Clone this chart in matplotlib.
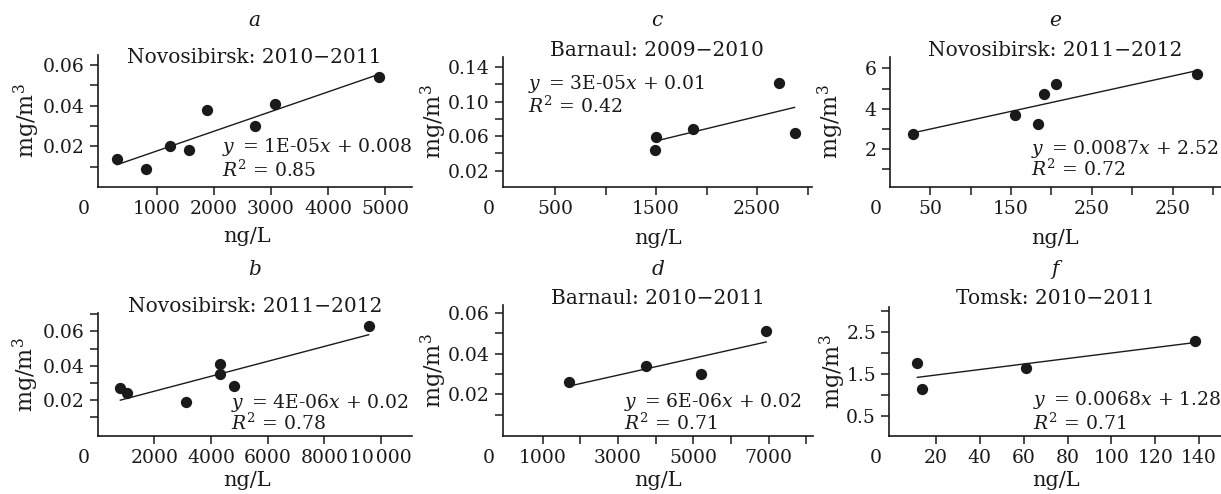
import matplotlib
matplotlib.use("Agg")
import matplotlib.pyplot as plt
import numpy as np

plt.rcParams['font.family'] = ['DejaVu Serif']
plt.rcParams['mathtext.fontset'] = 'dejavuserif'

INK = '#1a1a1a'

# ---------------- data ----------------
a_x = [300, 800, 1230, 1560, 1880, 2720, 3070, 4890]
a_y = [0.014, 0.009, 0.020, 0.018, 0.038, 0.030, 0.041, 0.054]

b_x = [800, 1040, 3120, 4300, 4330, 4820, 9560]
b_y = [0.027, 0.024, 0.019, 0.041, 0.035, 0.028, 0.063]

c_x = [1490, 1500, 1870, 2720, 2870]
c_y = [0.044, 0.059, 0.068, 0.121, 0.064]

d_x = [1710, 3740, 5210, 6930]
d_y = [0.026, 0.034, 0.030, 0.051]

e_x = [28, 155, 183, 191, 206, 380]
e_y = [2.75, 3.71, 3.22, 4.75, 5.21, 5.70]

f_x = [11.5, 13.5, 61, 138]
f_y = [1.76, 1.14, 1.63, 2.29]

letters = ['a', 'b', 'c', 'd', 'e', 'f']
titles = ['Novosibirsk: 2010\u22122011', 'Novosibirsk: 2011\u22122012',
          'Barnaul: 2009\u22122010', 'Barnaul: 2010\u22122011',
          'Novosibirsk: 2011\u22122012', 'Tomsk: 2010\u22122011']
equations = [r'$y\,$ = 1E-05$x$ + 0.008', r'$y\,$ = 4E-06$x$ + 0.02',
             r'$y\,$ = 3E-05$x$ + 0.01', r'$y\,$ = 6E-06$x$ + 0.02',
             r'$y\,$ = 0.0087$x$ + 2.52', r'$y\,$ = 0.0068$x$ + 1.28']
r2_values = ['0.85', '0.78', '0.42', '0.71', '0.72', '0.71']

a_xticks = [1000, 2000, 3000, 4000, 5000]
a_xlabels = ['1000', '2000', '3000', '4000', '5000']
b_xticks = [2000, 4000, 6000, 8000, 10000]
b_xlabels = ['2000', '4000', '6000', '8000', '10\u200a000']
c_xticks = [500, 1000, 1500, 2000, 2500, 3000]
c_xlabels = ['500', '', '1500', '', '2500', '']
d_xticks = [1000, 2000, 3000, 4000, 5000, 6000, 7000, 8000]
d_xlabels = ['1000', '', '3000', '', '5000', '', '7000', '']
e_xticks = [50, 100, 150, 200, 250, 300, 350, 400]
e_xlabels = ['50', '', '150', '', '250', '', '250', '']
f_xticks = [20, 40, 60, 80, 100, 120, 140]
f_xlabels = ['20', '40', '60', '80', '100', '120', '140']

a_yticks = [0.02, 0.04, 0.06]
a_ylabels = ['0.02', '0.04', '0.06']
a_yminor = [0.01, 0.03, 0.05]
b_yticks = [0.02, 0.04, 0.06]
b_ylabels = ['0.02', '0.04', '0.06']
b_yminor = [0.01, 0.03, 0.05, 0.07]
c_yticks = [0.02, 0.06, 0.10, 0.14]
c_ylabels = ['0.02', '0.06', '0.10', '0.14']
c_yminor = [0.04, 0.08, 0.12]
d_yticks = [0.02, 0.04, 0.06]
d_ylabels = ['0.02', '0.04', '0.06']
d_yminor = [0.01, 0.03, 0.05]
e_yticks = [2, 4, 6]
e_ylabels = ['2', '4', '6']
e_yminor = [1, 3, 5]
f_yticks = [0.5, 1.5, 2.5]
f_ylabels = ['0.5', '1.5', '2.5']
f_yminor = [1.0, 2.0, 3.0]

# ---------------- layout ----------------
W, H = 1221, 494
fig = plt.figure(figsize=(W / 100, H / 100), dpi=100)

FS_TICK = 13.5
FS_TITLE = 14.5
FS_YLABEL = 16
FS_XLABEL = 15
FS_EQ = 13.5

panels = [
    dict(x=a_x, y=a_y, box=(97.7, 411.7, 55, 187), xlim=(-40, 5470), ylim=(0, 0.065),
         xt=a_xticks, xl=a_xlabels, yt=a_yticks, yl=a_ylabels, ym=a_yminor,
         eq=(0.395, 0.267, 0.078), let_y=26, tit_y=63, ylab_x=26.7, xlab=(246.7, 237)),
    dict(x=b_x, y=b_y, box=(97.7, 411.7, 313.3, 435.7), xlim=(0, 11080), ylim=(-0.0007, 0.0705),
         xt=b_xticks, xl=b_xlabels, yt=b_yticks, yl=b_ylabels, ym=b_yminor,
         eq=(0.4245, 0.224, 0.047), let_y=275, tit_y=312, ylab_x=25.7, xlab=(246.7, 480.5)),
    dict(x=c_x, y=c_y, box=(502.7, 811.7, 56.7, 186.7), xlim=(-18, 3040), ylim=(0.0015, 0.152),
         xt=c_xticks, xl=c_xlabels, yt=c_yticks, yl=c_ylabels, ym=c_yminor,
         eq=(0.081, 0.749, 0.565), let_y=26.5, tit_y=56, ylab_x=434, xlab=(658, 238)),
    dict(x=d_x, y=d_y, box=(502.7, 812.7, 305, 435.7), xlim=(-61, 8165), ylim=(-0.0004, 0.064),
         xt=d_xticks, xl=d_xlabels, yt=d_yticks, yl=d_ylabels, ym=d_yminor,
         eq=(0.391, 0.222, 0.044), let_y=275, tit_y=304, ylab_x=434, xlab=(658.3, 480.5)),
    dict(x=e_x, y=e_y, box=(890, 1221, 56.7, 187.3), xlim=(0, 410), ylim=(0.1, 6.58),
         xt=e_xticks, xl=e_xlabels, yt=e_yticks, yl=e_ylabels, ym=e_yminor,
         eq=(0.425, 0.255, 0.089), let_y=26.5, tit_y=56.5, ylab_x=831, xlab=(1055, 238)),
    dict(x=f_x, y=f_y, box=(889.3, 1221, 306.7, 435.7), xlim=(-1.3, 150), ylim=(0.02, 3.1),
         xt=f_xticks, xl=f_xlabels, yt=f_yticks, yl=f_ylabels, ym=f_yminor,
         eq=(0.432, 0.238, 0.044), let_y=275, tit_y=304, ylab_x=832.5, xlab=(1056, 480.5)),
]

for i, p in enumerate(panels):
    l, r, t, b = p['box']
    ax = fig.add_axes([l / W, 1 - b / H, (r - l) / W, (b - t) / H])
    ax.set_facecolor('none')
    for s in ('top', 'right'):
        ax.spines[s].set_visible(False)
    for s in ('left', 'bottom'):
        ax.spines[s].set_linewidth(1.2)
        ax.spines[s].set_color(INK)

    xs = np.asarray(p['x'], dtype=float)
    ys = np.asarray(p['y'], dtype=float)
    ax.scatter(xs, ys, s=66, color=INK, zorder=3, clip_on=False, linewidths=0)
    k, c0 = np.polyfit(xs, ys, 1)
    xx = np.array([xs.min(), xs.max()])
    ax.plot(xx, k * xx + c0, color=INK, lw=1.0, zorder=2)

    ax.set_xlim(*p['xlim'])
    ax.set_ylim(*p['ylim'])
    ax.set_xticks(p['xt'])
    ax.set_xticklabels(p['xl'])
    ax.set_yticks(p['yt'])
    ax.set_yticklabels(p['yl'])
    ax.set_yticks(p['ym'], minor=True)
    ax.tick_params(which='both', direction='out', length=6, width=1.1, color=INK,
                   labelsize=FS_TICK, labelcolor=INK, pad=3.5)

    # corner "0" label
    ax.annotate('0', xy=(0, 0), xycoords='axes fraction', xytext=(-10, -9.5),
                textcoords='offset points', ha='center', va='top',
                fontsize=FS_TICK, color=INK)

    # regression text
    ex, ey1, ey2 = p['eq']
    ax.text(ex, ey1, equations[i], transform=ax.transAxes, fontsize=FS_EQ,
            color=INK, va='baseline', ha='left', clip_on=False)
    ax.text(ex, ey2, r'$R^2$ = ' + r2_values[i], transform=ax.transAxes,
            fontsize=FS_EQ, color=INK, va='baseline', ha='left', clip_on=False)

    # letter and title
    cx = (l + r) / 2 / W
    fig.text(cx, 1 - p['let_y'] / H, letters[i], style='italic', fontsize=FS_TITLE,
             ha='center', va='baseline', color=INK)
    fig.text(cx, 1 - p['tit_y'] / H, titles[i], fontsize=FS_TITLE,
             ha='center', va='baseline', color=INK)

    # axis labels
    ax.set_ylabel('mg/m$^3$', fontsize=FS_YLABEL, color=INK, va='center')
    ax.yaxis.set_label_coords((p['ylab_x'] - l) / (r - l), 0.5)
    ax.set_xlabel('ng/L', fontsize=FS_XLABEL, color=INK, va='center')
    ax.xaxis.set_label_coords((p['xlab'][0] - l) / (r - l), (b - p['xlab'][1]) / (b - t))

fig.savefig('out.png', dpi=100, facecolor='white')
